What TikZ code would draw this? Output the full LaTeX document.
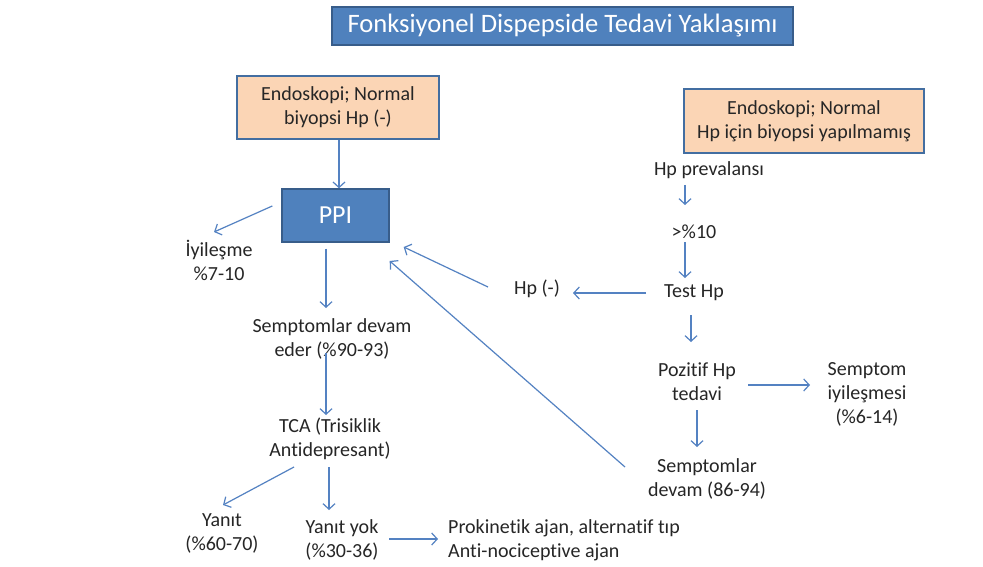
\documentclass[tikz,border=0pt]{standalone}
\usepackage{fontspec}
\setmainfont[Ligatures=NoCommon]{Carlito}
\usetikzlibrary{arrows.meta,calc}
\definecolor{accblue}{RGB}{79,129,189}
\definecolor{darkblue}{RGB}{56,93,138}
\definecolor{peach}{RGB}{251,213,181}
\definecolor{arrblue}{RGB}{84,130,194}
\tikzset{
  body/.style={font=\fontsize{20}{24}\selectfont, align=center, inner sep=0pt, text=black!85},
  peachbox/.style={draw=accblue!85!black, line width=1.6pt, fill=peach, minimum height=63pt, align=center, font=\fontsize{20}{24}\selectfont, text=black!85, inner sep=0pt},
  bluebox/.style={draw=darkblue, line width=1.4pt, fill=accblue, text=white, inner sep=0pt},
  arr/.style={draw=arrblue, line width=1.2pt, -{Straight Barb[length=5.5pt,width=12pt,line width=1.2pt]}}
}
\begin{document}
\begin{tikzpicture}[x=1pt,y=-1pt]
\useasboundingbox (0,0) rectangle (983,567);
\fill[white] (0,0) rectangle (983,567);
% title
\node[bluebox, minimum width=461pt, minimum height=38pt, font=\fontsize{26.6}{30}\selectfont] (title) at (562.5,26) {Fonksiyonel Dispepside Tedavi Yaklaşımı};
% boxes
\node[peachbox, minimum width=202pt] (lbox) at (338,107.5) {Endoskopi; Normal\\biyopsi Hp (-)};
\node[peachbox, minimum width=240pt, minimum height=64pt] (rbox) at (804,121) {Endoskopi; Normal\\Hp için biyopsi yapılmamış};
\node[bluebox, minimum width=107pt, minimum height=53pt, font=\fontsize{26}{30}\selectfont] (ppi) at (335.5,215.5) {PPI};
% text nodes
\node[body] (iyi) at (219,260) {İyileşme\\\%7-10};
\node[body] (semp1) at (332,339) {Semptomlar devam\\eder (\%90-93)};
\node[body] (tca) at (330,439) {TCA (Trisiklik\\Antidepresant)};
\node[body] (yanit) at (222,533) {Yanıt\\(\%60-70)};
\node[body] (yanityok) at (342,540) {Yanıt yok\\(\%30-36)};
\node[body, anchor=west, align=left] (prok) at (448,540) {Prokinetik ajan, alternatif tıp\\Anti-nociceptive ajan};
\node[body] (hpprev) at (709,170) {Hp prevalansı};
\node[body] (gt10) at (694,232) {>\%10};
\node[body] (testhp) at (694,293) {Test Hp};
\node[body] (hpminus) at (537,289) {Hp (-)};
\node[body] (poz) at (697,382) {Pozitif Hp\\tedavi};
\node[body] (sempt) at (867,394) {Semptom\\iyileşmesi\\(\%6-14)};
\node[body] (semp2) at (707,479) {Semptomlar\\devam (86-94)};
% arrows
\draw[arr] ([xshift=1pt]lbox.south) -- ([xshift=1pt]lbox.south |- ppi.north);
\draw[arr] ([shift={(-9,-9.5)}]ppi.west) -- ([shift={(-5,-28)}]iyi.center);
\draw[arr] ([shift={(-9.5,6)}]ppi.south) -- ([shift={(-6,-31)}]semp1.center);
\draw[arr] ([shift={(-6,14)}]semp1.center) -- ([shift={(-4,-24)}]tca.center);
\draw[arr] ([shift={(-36,28)}]tca.center) -- ([shift={(1,-28)}]yanit.center);
\draw[arr] ([shift={(-1,28)}]tca.center) -- ([shift={(-13,-30)}]yanityok.center);
\draw[arr] ([shift={(47,-1)}]yanityok.center) -- ([shift={(-10,-1)}]prok.west);
\draw[arr] ([shift={(-24,15)}]hpprev.center) -- ([shift={(-9,-27)}]gt10.center);
\draw[arr] ([shift={(-9,10)}]gt10.center) -- ([shift={(-9,-15)}]testhp.center);
\draw[arr] ([shift={(-48,0)}]testhp.center) -- ([shift={(36,4)}]hpminus.center);
\draw[arr] ([shift={(-49,-2)}]hpminus.center) -- ([shift={(14,31.5)}]ppi.east);
\draw[arr] ([shift={(-82,-12)}]semp2.center) -- ([shift={(0,45.5)}]ppi.east);
\draw[arr] ([shift={(-3,22)}]testhp.center) -- ([shift={(-6,-40)}]poz.center);
\draw[arr] ([shift={(51,3)}]poz.center) -- ([shift={(-57,-9)}]sempt.center);
\draw[arr] ([shift={(0,28)}]poz.center) -- ([shift={(-10,-32)}]semp2.center);
\end{tikzpicture}
\end{document}
